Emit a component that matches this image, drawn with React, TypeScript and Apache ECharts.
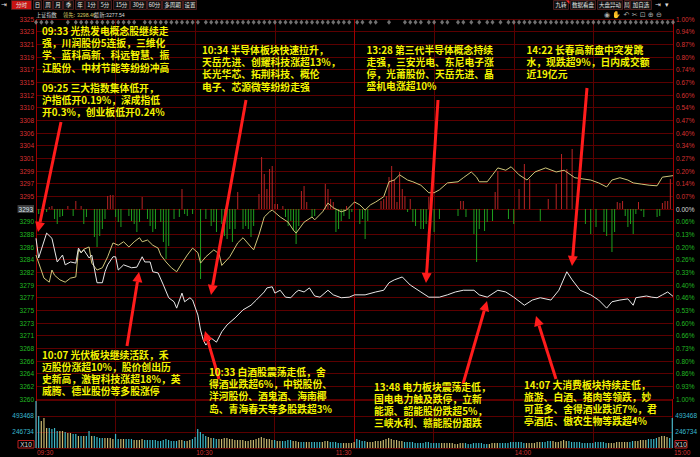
import React, { useEffect, useRef } from 'react';
import * as echarts from 'echarts';

// ---------------- data ----------------
const PRE_CLOSE = 3292.68;
const PRICE_SPAN = 32.93; // +-1%

const leftLabels = ['3260','3262','3264','3266','3268','3271','3273','3275','3277','3279','3282','3284','3286','3288','3290','3293','3295','3297','3299','3301','3304','3306','3308','3310','3312','3315','3317','3319','3321','3323','3325'];
const rightLabels = ['1.00%','0.93%','0.86%','0.80%','0.73%','0.66%','0.60%','0.53%','0.46%','0.40%','0.33%','0.26%','0.20%','0.13%','0.06%','0.00%','0.07%','0.14%','0.20%','0.27%','0.34%','0.40%','0.47%','0.54%','0.60%','0.67%','0.74%','0.80%','0.87%','0.94%','1.00%'];
const timeLabels = [[0,'09:30'],[60,'10:30'],[120,'11:30'],[180,'14:00'],[240,'15:00']];
const volTickLabels = ['X10','246734','493468',''];

// white line: weighted index [minute, price]
const whiteLine = [[0,3287.6],[1,3284.2],[4,3288.5],[6,3287.6],[8,3283.5],[10,3284.7],[11,3283.0],[13,3283.5],[15,3283.3],[16,3285.9],[17,3285.1],[18,3285.6],[20,3284.2],[21,3284.7],[23,3279.9],[25,3279.9],[26,3281.8],[27,3283.0],[29,3284.4],[30,3284.4],[31,3282.1],[33,3283.0],[36,3282.5],[38,3282.6],[40,3284.4],[41,3283.5],[43,3283.5],[44,3281.8],[46,3281.6],[48,3279.5],[50,3277.3],[52,3276.6],[53,3275.5],[55,3278.1],[56,3276.6],[58,3277.3],[59,3276.9],[61,3274.3],[62,3271.7],[63,3270.0],[64,3269.1],[66,3270.3],[68,3269.6],[70,3271.4],[72,3272.6],[75,3273.8],[78,3275.2],[81,3276.0],[83,3276.9],[86,3278.3],[87,3279.0],[89,3279.2],[90,3278.1],[92,3278.6],[94,3277.4],[96,3277.3],[98,3278.3],[99,3278.6],[101,3278.3],[103,3279.0],[105,3277.6],[107,3277.4],[110,3278.6],[112,3277.8],[115,3277.3],[118,3277.4],[120,3277.8],[124,3277.8],[128,3278.3],[131,3278.6],[133,3279.9],[135,3280.4],[138,3280.9],[141,3279.5],[145,3278.3],[148,3277.4],[152,3277.4],[155,3277.8],[158,3278.3],[161,3278.6],[165,3278.6],[167,3277.8],[170,3277.4],[174,3278.6],[177,3278.3],[180,3277.4],[184,3276.0],[187,3276.9],[190,3277.3],[194,3276.9],[197,3278.6],[200,3281.8],[202,3280.4],[205,3278.6],[209,3277.8],[212,3276.9],[215,3275.5],[217,3276.6],[220,3276.9],[223,3277.1],[225,3276.0],[226,3277.3],[230,3277.6],[232,3277.4],[234,3277.3],[236,3277.8],[238,3278.3],[240,3277.54]];

// yellow line: non-weighted index [minute, price]
const yellowLine = [[0,3284.7],[3,3280.7],[5,3280.0],[6,3282.1],[7,3281.2],[9,3280.4],[11,3280.0],[13,3280.7],[15,3280.9],[16,3285.6],[17,3285.1],[18,3285.7],[20,3286.1],[21,3283.3],[23,3282.1],[25,3282.5],[27,3284.4],[29,3286.8],[31,3286.4],[33,3287.0],[35,3286.1],[37,3287.0],[39,3287.7],[40,3287.0],[42,3287.3],[44,3286.4],[46,3285.9],[47,3284.7],[49,3283.5],[51,3282.5],[53,3281.8],[55,3283.3],[57,3284.7],[59,3285.9],[61,3285.1],[62,3283.3],[64,3284.4],[67,3285.6],[69,3284.9],[70,3282.9],[73,3284.4],[76,3286.8],[78,3287.7],[81,3286.1],[82,3285.6],[84,3288.2],[86,3291.3],[88,3292.2],[89,3292.5],[92,3291.3],[95,3290.4],[97,3289.0],[98,3288.5],[101,3290.4],[104,3291.3],[105,3290.8],[108,3292.2],[110,3293.7],[112,3292.9],[115,3292.2],[117,3292.5],[120,3293.9],[122,3293.4],[124,3292.5],[126,3293.4],[128,3293.9],[131,3294.8],[133,3297.4],[135,3297.7],[137,3298.6],[140,3297.7],[142,3297.4],[145,3296.8],[148,3295.5],[150,3295.5],[152,3296.0],[155,3297.2],[159,3297.4],[161,3298.1],[164,3299.1],[166,3298.2],[167,3297.4],[170,3297.4],[172,3298.6],[174,3299.8],[177,3299.4],[179,3300.0],[182,3298.6],[185,3297.7],[188,3299.1],[192,3299.8],[196,3299.1],[199,3299.4],[203,3298.1],[209,3297.7],[212,3297.2],[215,3296.5],[217,3297.7],[220,3298.1],[223,3297.7],[225,3297.2],[228,3297.0],[231,3296.8],[234,3296.7],[236,3298.2],[240,3298.46]];

// red / green strength bars around the pre-close line [minute, value]
const strengthBars = [[1,-5],[2,-10],[3,1],[4,-3],[5,2],[6,3],[7,-10],[8,-15],[9,-8],[10,-7],[12,3],[14,-7],[15,8],[17,3],[18,-15],[19,-8],[22,-28],[23,-38],[24,-27],[25,-20],[26,-10],[27,13],[28,14],[29,14],[30,-8],[31,-13],[32,-18],[35,-7],[36,-12],[37,-15],[38,-23],[39,-13],[40,12],[42,-10],[43,-17],[44,-23],[45,-20],[47,-13],[48,-33],[49,-50],[50,-37],[52,-10],[54,-8],[55,20],[56,-5],[57,-7],[59,-5],[62,-70],[64,-10],[66,-17],[67,-13],[68,-23],[70,-15],[71,-27],[72,-30],[73,-20],[74,-33],[75,-20],[76,17],[78,-20],[79,-17],[80,-20],[81,-28],[82,-17],[84,15],[85,52],[86,35],[87,20],[88,40],[89,43],[90,5],[91,5],[93,3],[94,-8],[95,-17],[96,-12],[97,-22],[98,-35],[99,-17],[100,18],[101,23],[102,7],[104,-8],[105,-7],[109,25],[110,20],[111,10],[112,7],[113,-23],[114,-20],[115,-12],[116,-7],[117,3],[118,-10],[119,-3],[122,-15],[123,-10],[124,-30],[125,-12],[130,8],[131,10],[132,13],[133,32],[134,43],[135,30],[136,7],[137,37],[138,20],[139,13],[140,-3],[141,10],[142,-13],[143,-17],[145,-20],[146,-20],[147,-15],[148,12],[150,-23],[152,-10],[159,-7],[160,8],[161,8],[162,-8],[165,-25],[166,-53],[167,-20],[169,-22],[170,-13],[172,-12],[173,17],[174,38],[178,-10],[180,-15],[182,20],[184,45],[186,30],[190,-12],[193,10],[196,25],[198,55],[200,40],[202,60],[204,20],[207,-15],[209,-25],[211,-18],[214,-23],[215,-27],[217,-43],[218,-23],[219,7],[220,6],[221,8],[222,-7],[223,-18],[224,-15],[225,-25],[226,-5],[227,7],[228,-2],[229,-8],[234,-8],[235,-7],[236,6],[237,8],[238,8],[239,30]];

// volume per minute (x10, in thousands)
const volume = [725,493,416,463,308,308,293,308,262,262,
262,247,231,231,216,216,185,185,185,185,
262,185,185,170,154,154,154,154,154,139,
216,139,139,139,139,139,139,123,123,123,
139,123,123,123,123,123,108,108,123,139,
123,108,108,108,123,123,108,108,123,139,
170,293,247,216,185,170,154,154,139,139,
139,154,154,139,139,123,123,123,123,108,
108,123,123,139,154,170,154,139,139,123,
123,108,108,108,108,123,123,108,108,93,
93,93,93,93,93,93,93,93,93,108,
108,93,93,93,77,77,77,77,77,77,93,
139,123,108,108,93,93,93,108,108,108,123,139,154,139,123,123,108,108,93,93,
93,93,77,77,77,77,93,93,77,77,77,77,77,77,77,77,77,62,62,77,
77,77,62,62,77,77,77,77,62,62,62,77,77,77,77,77,77,77,93,93,
93,93,93,77,77,77,77,77,93,93,93,93,108,108,108,93,93,108,123,108,
108,93,93,93,93,77,77,77,77,77,93,93,93,93,77,77,77,77,93,93,
93,93,93,93,108,108,108,123,123,123,139,139,139,154,170,185,185,170,154,462];

// event markers along the top edge (minutes)
const eventMarks = [0,2,4,6,12,15,17,19,21,23,25,27,29,31,33,35,37,41,43,45,47,49,51,53,55,57,59,61,64,66,68,70,72,74,76,78,80,82,84,86,88,90,92,94,96,98,100,102,104,106,108,110,112,114,116,118,121,123,126,128,133,139,141,143,145,148,150,153,155,159,161,164,167,170,172,175,178,180,182,184,186,188,190,192,194,196,198,200,202,204,206,208,210,212,214,216,218,220,222,224,226,228,230,232,234,236,238,240];

const annotations = [
  { x: 42, y: 31, lh: 12.2, lines: ['09:33 光热发电概念股继续走', '强，川润股份5连扳，三维化', '学、蓝科高新、科远智慧、振', '江股份、中材节能等纷纷冲高'] },
  { x: 42, y: 87.5, lh: 12.2, lines: ['09:25 三大指数集体低开，', '沪指低开0.19%，深成指低', '开0.3%，创业板低开0.24%'] },
  { x: 202, y: 50, lh: 12.2, lines: ['10:34 半导体板块快速拉升，', '天岳先进、创耀科技涨超13%，', '长光华芯、拓荆科技、概伦', '电子、芯源微等纷纷走强'] },
  { x: 366.5, y: 50, lh: 12, lines: ['13:28 第三代半导体概念持续', '走强，三安光电、东尼电子涨', '停，光莆股份、天岳先进、晶', '盛机电涨超10%'] },
  { x: 526.5, y: 50, lh: 12, lines: ['14:22 长春高新盘中突发跳', '水，现跌超9%，日内成交额', '近19亿元'] },
  { x: 42, y: 355, lh: 12, lines: ['10:07 光伏板块继续活跃，禾', '迈股份涨超10%，股价创出历', '史新高，激智科技涨超18%，英', '威腾、德业股份等多股涨停'] },
  { x: 209, y: 372, lh: 12.2, lines: ['10:33 白酒股震荡走低，舍', '得酒业跌超6%，中锐股份、', '洋河股份、酒鬼酒、海南椰', '岛、青海春天等多股跌超3%'] },
  { x: 374, y: 387, lh: 12, lines: ['13:48 电力板块震荡走低，', '国电电力触及跌停，立新', '能源、韶能股份跌超5%，', '三峡水利、赣能股份跟跌'] },
  { x: 524, y: 385, lh: 12, lines: ['14:07 大消费板块持续走低，', '旅游、白酒、猪肉等领跌，妙', '可蓝多、舍得酒业跌近7%，君', '亭酒店、傲农生物等跌超4%'] },
];

const arrows = [
  [61, 122, 38, 232],
  [246, 100, 211, 295],
  [438, 100, 426, 283],
  [587, 88, 572, 266],
  [127, 346, 139, 272],
  [219, 379, 205, 331],
  [463, 384, 487, 301],
  [556, 379, 536, 316],
];

const toolbarLeft = [['分时',11,32],['日',33,42],['周',43,53],['月',53,63],['季',63,74],['年',75,85],['1分',85,98],['5分',98,112],['15分',113,130],['30分',130,147],['60分',147,162],['多周期',162,183],['设置',183,197]];
const toolbarRight = [['九转',553,569],['数据看盘',570,596],['大盘异动',597,623],['局',624,630],['加自选',630,652]];

// ---------------- layout ----------------
const GL = 36, GW = 637, PT = 19, PH = 380, VT = 399, VH = 49;
const VMAX = 755.5;
const CJK = 'Noto Sans CJK SC';
const LAT = 'Liberation Sans';
const AX = 6.5;
const ANN_FONT = 9.8;
const mx = (m: number) => GL + (m * GW) / 240;

function txt(text: string, x: number, y: number, fill: string, size: number, family: string, extra: any = {}) {
  return {
    type: 'text', z: 110,
    style: { text, x, y, fill, fontSize: size, fontFamily: family, verticalAlign: 'middle', ...extra },
  };
}

function arrowEls(a: number[]) {
  const [x1, y1, x2, y2] = a;
  const dx = x2 - x1, dy = y2 - y1;
  const len = Math.hypot(dx, dy);
  const ux = dx / len, uy = dy / len;
  const hl = 10, hw = 5;
  const bx = x2 - ux * hl, by = y2 - uy * hl;
  const px = -uy, py = ux;
  return [
    { type: 'line', z: 120, shape: { x1, y1, x2: bx, y2: by }, style: { stroke: '#ff1c1c', lineWidth: 3 } },
    { type: 'polygon', z: 120, shape: { points: [[x2, y2], [bx + px * hw, by + py * hw], [bx - px * hw, by - py * hw]] }, style: { fill: '#ff1c1c' } },
  ];
}

function buildOption() {
  const graphic: any[] = [];
  // toolbar
  graphic.push(txt('⇥', 1, 5, '#ddd', 7, 'DejaVu Sans'));
  toolbarLeft.forEach(([t, a, b]: any, i) => {
    graphic.push({ type: 'rect', z: 100, shape: { x: a + 0.5, y: 0.5, width: b - a - 1, height: 9 }, style: { fill: i === 0 ? '#c81414' : '#111', stroke: '#4a1c1c', lineWidth: 1 } });
    graphic.push(txt(t, (a + b) / 2, 5.2, '#e6e6e6', 5.5, CJK, { align: 'center' }));
  });
  toolbarRight.forEach(([t, a, b]: any) => {
    graphic.push({ type: 'rect', z: 100, shape: { x: a + 0.5, y: 0.5, width: b - a - 1, height: 9 }, style: { fill: '#111', stroke: '#4a1c1c', lineWidth: 1 } });
    graphic.push(txt(t, (a + b) / 2, 5.2, '#e6e6e6', 5.5, CJK, { align: 'center' }));
  });
  graphic.push({ type: 'polygon', z: 111, shape: { points: [[566, 0.5], [569.5, 0.5], [569.5, 4]] }, style: { fill: '#ff2020' } });
  graphic.push(txt('⇥', 655, 5, '#ddd', 7, 'DejaVu Sans'));
  graphic.push(txt('▾', 665, 5, '#ddd', 7, 'DejaVu Sans'));
  // header row
  graphic.push(txt('上证指数', 36, 14.5, '#d8d8d8', 5.2, CJK));
  graphic.push(txt('领先:', 63, 14.5, '#d8c860', 5.2, CJK));
  graphic.push(txt('3298.46', 77, 14.5, '#d8c860', 5.2, LAT));
  graphic.push(txt('最新:', 94, 14.5, '#d8d8d8', 5.2, CJK));
  graphic.push(txt('3277.54', 106, 14.5, '#d8d8d8', 5.2, LAT));
  graphic.push(txt('◉ ✋ ↶ ✂ ⊡ ⊕ ⊖', 604, 14.5, '#aaa', 7, 'DejaVu Sans'));
  // time labels
  timeLabels.forEach(([m, t]: any) => {
    const right = m === 120;
    graphic.push(txt(t, right ? mx(m) - 3 : mx(m) + 1, 452.5, '#d03030', AX, LAT, { align: right ? 'right' : 'left' }));
  });
  // X10 unit boxes
  [[18, 34], [675, 687]].forEach(([a, b]) => {
    graphic.push({ type: 'rect', z: 100, shape: { x: a, y: 440.5, width: b - a, height: 7.5 }, style: { fill: '#000', stroke: '#c02020', lineWidth: 1 } });
    graphic.push(txt('X10', (a + b) / 2, 444.5, '#d8d8d8', AX, LAT, { align: 'center' }));
  });
  // annotations: one text element per line, y = centre of the first line
  annotations.forEach((a) => {
    a.lines.forEach((line, k) => {
      graphic.push({ type: 'text', z: 130, style: { text: line, x: a.x, y: a.y + k * a.lh, fill: '#f4f400', fontSize: ANN_FONT, fontWeight: 'bold', fontFamily: CJK, verticalAlign: 'middle' } });
    });
  });
  arrows.forEach((a) => graphic.push(...arrowEls(a)));

  // volume colours from white line direction
  const priceAt = (m: number) => {
    for (let i = 1; i < whiteLine.length; i++) {
      if (whiteLine[i][0] >= m) {
        const [m0, p0] = whiteLine[i - 1];
        const [m1, p1] = whiteLine[i];
        return p0 + ((p1 - p0) * (m - m0)) / (m1 - m0 || 1);
      }
    }
    return whiteLine[whiteLine.length - 1][1];
  };
  const volData = volume.map((v, m) => ({
    value: [m, v],
    itemStyle: { color: m > 0 && priceAt(m) > priceAt(m - 1) ? '#c8b870' : '#3cb8c8' },
  }));

  const gridSplit = { show: true, lineStyle: { color: '#5c0000', width: 1 } };
  const xSplitColors = ['#a00000', '#5c0000', '#5c0000', '#5c0000', '#a00000', '#5c0000', '#5c0000', '#5c0000', '#a00000'];
  const volLabel = (margin: number) => ({
    margin, fontSize: AX, fontFamily: LAT, color: '#38b8d0',
    formatter: (v: number) => {
      const i = Math.round(v / 246.734);
      return i >= 1 && volTickLabels[i] ? volTickLabels[i] : '';
    },
  });
  const priceRich = (zeroBox: boolean) => ({
    u: { color: '#d83030', fontSize: AX, fontFamily: LAT },
    d: { color: '#22b822', fontSize: AX, fontFamily: LAT },
    z: zeroBox
      ? { color: '#d8e4f0', fontSize: AX, fontFamily: LAT, backgroundColor: '#3c3c3c', padding: [1, 1, 0, 1] }
      : { color: '#d8d8d8', fontSize: AX, fontFamily: LAT },
  });
  const priceFmt = (labels: string[]) => (v: number) => {
    const i = Math.round(v);
    const t = labels[i];
    return i > 15 ? `{u|${t}}` : i < 15 ? `{d|${t}}` : `{z|${t}}`;
  };

  return {
    animation: false,
    backgroundColor: '#000',
    grid: [
      { left: GL, top: PT, width: GW, height: PH },
      { left: GL, top: VT, width: GW, height: VH },
    ],
    xAxis: [
      { gridIndex: 0, type: 'value', min: 0, max: 240, interval: 30, axisLine: { show: false }, axisTick: { show: false }, axisLabel: { show: false }, splitLine: { show: true, lineStyle: { color: xSplitColors } } },
      { gridIndex: 1, type: 'value', min: 0, max: 240, interval: 30, axisLine: { show: false }, axisTick: { show: false }, axisLabel: { show: false }, splitLine: { show: true, lineStyle: { color: xSplitColors } } },
    ],
    yAxis: [
      {
        gridIndex: 0, type: 'value', min: 0, max: 30, interval: 1, position: 'left',
        axisLine: { show: false }, axisTick: { show: false }, splitLine: gridSplit,
        axisLabel: { margin: 2, fontSize: AX, fontFamily: LAT, formatter: priceFmt(leftLabels), rich: priceRich(true) },
      },
      {
        gridIndex: 0, type: 'value', min: 0, max: 30, interval: 1, position: 'right',
        axisLine: { show: false }, axisTick: { show: false }, splitLine: { show: false },
        axisLabel: { margin: 3, fontSize: AX, fontFamily: LAT, formatter: priceFmt(rightLabels), rich: priceRich(false) },
      },
      { gridIndex: 0, type: 'value', min: PRE_CLOSE - PRICE_SPAN, max: PRE_CLOSE + PRICE_SPAN, show: false, splitLine: { show: false } },
      { gridIndex: 0, type: 'value', min: -190, max: 190, show: false, splitLine: { show: false } },
      {
        gridIndex: 1, type: 'value', min: 0, max: VMAX, interval: 246.734, position: 'left',
        axisLine: { show: false }, axisTick: { show: false }, splitLine: { show: true, lineStyle: { color: '#5c0000' } },
        axisLabel: volLabel(2),
      },
      {
        gridIndex: 1, type: 'value', min: 0, max: VMAX, interval: 246.734, position: 'right',
        axisLine: { show: false }, axisTick: { show: false }, splitLine: { show: false },
        axisLabel: volLabel(3),
      },
    ],
    series: [
      {
        type: 'bar', xAxisIndex: 0, yAxisIndex: 3, barWidth: 1, data: strengthBars,
        itemStyle: { color: (p: any) => (p.value[1] >= 0 ? '#b82424' : '#1ea01e') },
      },
      {
        type: 'scatter', xAxisIndex: 0, yAxisIndex: 0, symbol: 'diamond', symbolSize: [4, 5],
        data: eventMarks.map((m) => [m, 29.75]), itemStyle: { color: '#8c8c8c' },
      },
      {
        type: 'line', xAxisIndex: 0, yAxisIndex: 2, data: yellowLine, showSymbol: false, smooth: false,
        lineStyle: { color: '#cfc67a', width: 1 },
      },
      {
        type: 'line', xAxisIndex: 0, yAxisIndex: 2, data: whiteLine, showSymbol: false, smooth: false,
        lineStyle: { color: '#e8e8e8', width: 1 },
      },
      {
        type: 'bar', xAxisIndex: 1, yAxisIndex: 4, barWidth: 1.2, data: volData,
      },
    ],
    graphic,
  };
}

export default function App() {
  const ref = useRef<HTMLDivElement>(null);
  useEffect(() => {
    const chart = echarts.init(ref.current!, null, { renderer: 'svg' });
    chart.setOption(buildOption() as any);
    return () => chart.dispose();
  }, []);
  return <div ref={ref} style={{ position: 'fixed', left: 0, top: 0, width: 700, height: 457, background: '#000' }} />;
}
